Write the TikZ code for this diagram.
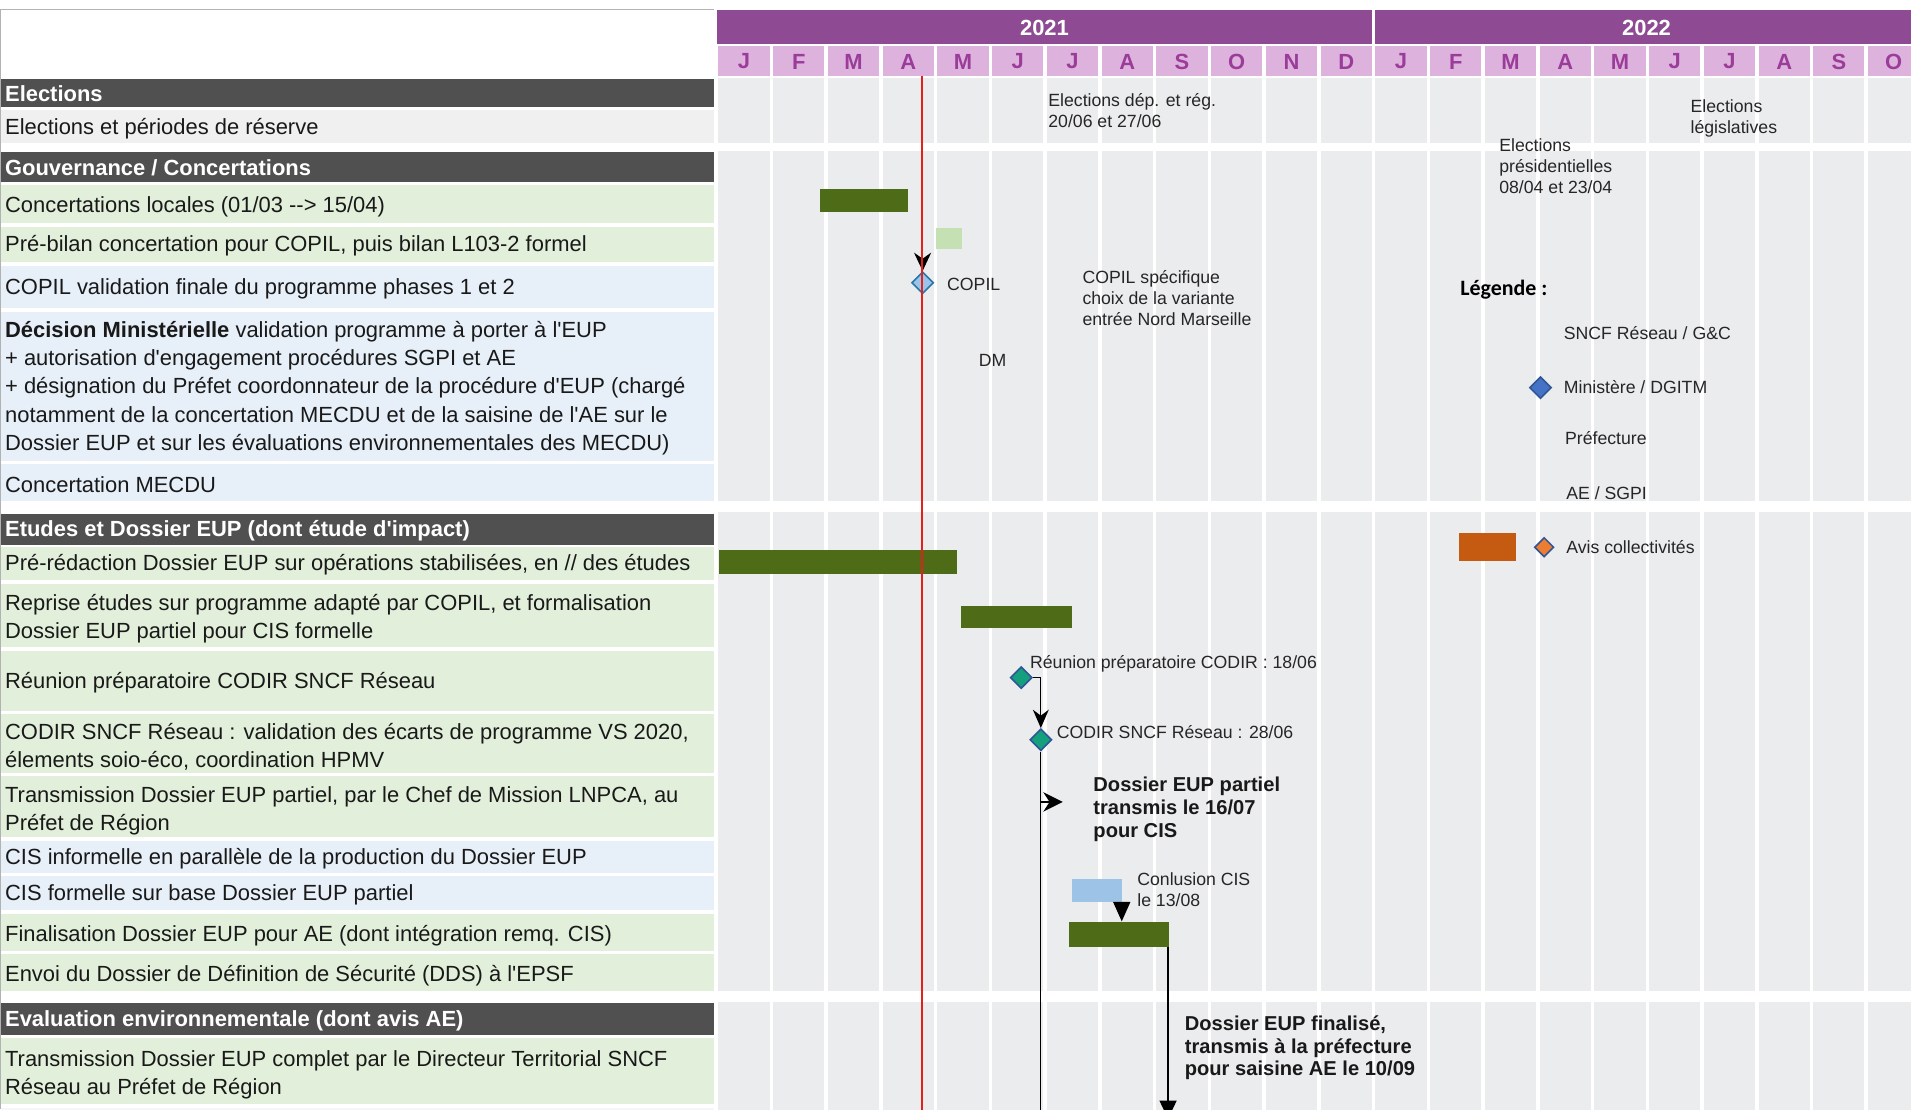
\documentclass[tikz,border=0pt]{standalone}
\usepackage{fontspec}
\setmainfont{Liberation Sans}[Ligatures=TeXOff]
\newfontfamily\calib{Carlito}[Ligatures=TeXOff]
\usetikzlibrary{arrows.meta,shapes.geometric}
\definecolor{hdrgray}{HTML}{505050}
\definecolor{rowelec}{HTML}{F0F0F0}
\definecolor{rowgreen}{HTML}{E2EFDA}
\definecolor{rowblue}{HTML}{E7EFF9}
\definecolor{rowpale}{HTML}{F3F7FC}
\definecolor{cellgray}{HTML}{EBECEE}
\definecolor{yearbar}{HTML}{8E4A92}
\definecolor{monthbg}{HTML}{DDB3DD}
\definecolor{monthtx}{HTML}{9B3C9B}
\definecolor{barcol}{HTML}{4E6B18}
\definecolor{lgreen}{HTML}{C5E0B3}
\definecolor{lblue}{HTML}{9DC3E6}
\definecolor{orangebar}{HTML}{C55A11}
\definecolor{orangedia}{HTML}{ED7D31}
\definecolor{diablue}{HTML}{4472C4}
\definecolor{diaborder}{HTML}{2F5597}
\definecolor{tealdia}{HTML}{14A07C}
\definecolor{redline}{HTML}{E3201B}
\begin{document}
\begin{tikzpicture}[x=1pt,y=-1pt,
  lbl/.style={anchor=west, inner sep=0pt, align=left, font=\fontsize{18}{23}\selectfont, text=black!90},
  hdrlbl/.style={anchor=west, inner sep=0pt, font=\fontsize{18}{23}\selectfont\bfseries, text=white},
  note/.style={anchor=west, inner sep=0pt, align=left, font=\fontsize{14.5}{17}\selectfont, text=black!85},
  bnote/.style={anchor=west, inner sep=0pt, align=left, font=\fontsize{16.5}{18.5}\selectfont\bfseries, text=black!90},
  barg/.style={anchor=north west, inner sep=0pt, fill=barcol, draw=none},
  dia/.style={diamond, aspect=1, inner sep=0pt, minimum width=18pt, minimum height=18pt, line width=1.3pt},
  link/.style={line width=1.1pt, draw=black},
  monthlbl/.style={inner sep=0pt, font=\fontsize{18}{20}\selectfont\bfseries, text=monthtx},
  yearlbl/.style={inner sep=0pt, font=\fontsize{18}{20}\selectfont\bfseries, text=white},
]
\useasboundingbox (0,0) rectangle (1568,910);
\fill[white] (0,0) rectangle (1568,910);

% chart grid cells
\foreach \ya/\yb in {64/117, 124/411, 420/813, 822/920}{
  \foreach \m in {0,...,21}{
    \fill[cellgray] ({588+44.92*\m+1.5},\ya) rectangle ({588+44.92*(\m+1)-1.5},\yb);
  }
}
% year bar
\fill[yearbar] (588,8) rectangle (1126,36);
\fill[yearbar] (1128.5,8) rectangle (1580,36);
\node[yearlbl] (y2021) at (857,23) {2021};
\node[yearlbl] (y2022) at (1351,23) {2022};
% months
\foreach \l [count=\i from 0] in {J,F,M,A,M,J,J,A,S,O,N,D,J,F,M,A,M,J,J,A,S,O}{
  \fill[monthbg] ({588+44.92*\i+1.5},38) rectangle ({588+44.92*(\i+1)-1.5},62);
  \node[monthlbl] (m\i) at ({588+44.92*(\i+0.5)},50.5) {\l};
}

% left column backgrounds
\foreach \ya/\yb/\c in {65/88/hdrgray, 90/117/rowelec, 125/149/hdrgray, 152/183/rowgreen, 186/215/rowgreen, 218/253/rowblue, 256/378/rowblue, 381/411/rowblue, 422/447/hdrgray, 449/476/rowgreen, 479/531/rowgreen, 534/583/rowgreen, 586/634/rowgreen, 637/687/rowgreen, 690/716/rowblue, 719/747/rowblue, 750/780/rowgreen, 783/813/rowgreen, 823/849/hdrgray, 852/906/rowgreen, 909/920/rowpale}{
  \fill[fill=\c] (1,\ya) rectangle (586,\yb);
}
\draw[gray!60, line width=0.8pt] (586,8) -- (0.5,8) -- (0.5,910);

% left labels
\node[hdrlbl] (h1) at (4,77) {Elections};
\node[lbl] (r1) at (4,106) {Elections et périodes de réserve};
\node[hdrlbl] (h2) at (4,138) {Gouvernance / Concertations};
\node[lbl] (r2) at (4,170) {Concertations locales (01/03 --> 15/04)};
\node[lbl] (r3) at (4,202) {Pré-bilan concertation pour COPIL, puis bilan L103-2 formel};
\node[lbl] (r4) at (4,237) {COPIL validation finale du programme phases 1 et 2};
\node[lbl] (r5) at (4,318.5) {\textbf{Décision Ministérielle} validation programme à porter à l'EUP\\+ autorisation d'engagement procédures SGPI et AE\\+ désignation du Préfet coordonnateur de la procédure d'EUP (chargé\\notamment de la concertation MECDU et de la saisine de l'AE sur le\\Dossier EUP et sur les évaluations environnementales des MECDU)};
\node[lbl] (r6) at (4,397.5) {Concertation MECDU};
\node[hdrlbl] (h3) at (4,435.5) {Etudes et Dossier EUP (dont étude d'impact)};
\node[lbl] (r7) at (4,463) {Pré-rédaction Dossier EUP sur opérations stabilisées, en // des études};
\node[lbl] (r8) at (4,508) {Reprise études sur programme adapté par COPIL, et formalisation\\Dossier EUP partiel pour CIS formelle};
\node[lbl] (r9) at (4,560.5) {Réunion préparatoire CODIR SNCF Réseau};
\node[lbl] (r10) at (4,613) {CODIR SNCF Réseau : validation des écarts de programme VS 2020,\\élements soio-éco, coordination HPMV};
\node[lbl] (r11) at (4,665) {Transmission Dossier EUP partiel, par le Chef de Mission LNPCA, au\\Préfet de Région};
\node[lbl] (r12) at (4,704.5) {CIS informelle en parallèle de la production du Dossier EUP};
\node[lbl] (r13) at (4,734.5) {CIS formelle sur base Dossier EUP partiel};
\node[lbl] (r14) at (4,767.5) {Finalisation Dossier EUP pour AE (dont intégration remq. CIS)};
\node[lbl] (r15) at (4,800.5) {Envoi du Dossier de Définition de Sécurité (DDS) à l'EPSF};
\node[hdrlbl] (h4) at (4,837.5) {Evaluation environnementale (dont avis AE)};
\node[lbl] (r16) at (4,881.5) {Transmission Dossier EUP complet par le Directeur Territorial SNCF\\Réseau au Préfet de Région};

% bars
\node[barg, minimum width=72pt, minimum height=19pt] (bconc) at (673,155) {};
\node[anchor=north west, inner sep=0pt, fill=lgreen, minimum width=21pt, minimum height=17pt] (bprebil) at (768,187) {};
\node[barg, minimum width=195pt, minimum height=20pt] (bpreed) at (590,451) {};
\node[barg, minimum width=91pt, minimum height=18pt] (brep) at (788,497) {};
\node[anchor=north west, inner sep=0pt, fill=lblue, minimum width=41pt, minimum height=19pt] (bcis) at (879,721) {};
\node[barg, minimum width=82pt, minimum height=21pt] (bfin) at (877,756) {};

% annotations
\node[note] (ann1) at (860,90.5) {Elections dép. et rég.\\20/06 et 27/06};
\node[note] (ann2) at (1230,136.5) {Elections\\présidentielles\\08/04 et 23/04};
\node[note] (ann3) at (1387,97) {Elections\\législatives};
\node[note] (copillbl) at (777,233.5) {COPIL};
\node[note] (copilspec) at (888,244.5) {COPIL spécifique\\choix de la variante\\entrée Nord Marseille};
\node[note] (dmlbl) at (803,295.5) {DM};
\node[note] (reunlbl) at (845,544.5) {Réunion préparatoire CODIR : 18/06};
\node[note] (codirlbl) at (867,600.5) {CODIR SNCF Réseau : 28/06};
\node[bnote] (dos1) at (897,664) {Dossier EUP partiel\\transmis le 16/07\\pour CIS};
\node[note] (conclbl) at (933,730) {Conlusion CIS\\le 13/08};
\node[bnote] (dos2) at (972,860) {Dossier EUP finalisé,\\transmis à la préfecture\\pour saisine AE le 10/09};

% legend
\node[anchor=west, inner sep=0pt, font=\calib\fontsize{18}{20}\selectfont\bfseries] (legt) at (1198,238) {Légende :};
\node[note] (lg1) at (1283,273.5) {SNCF Réseau / G\&C};
\node[dia, fill=diablue, draw=diaborder] (lgd2) at (1264,318) {};
\node[note] (lg2) at (1283,317.5) {Ministère / DGITM};
\node[note] (lg3) at (1284,359.5) {Préfecture};
\node[note] (lg4) at (1285,404.5) {AE / SGPI};
\node[anchor=north west, inner sep=0pt, fill=orangebar, minimum width=47pt, minimum height=23pt] (lgbar) at (1197,437) {};
\node[dia, fill=orangedia, draw=diaborder, minimum width=16pt, minimum height=16pt] (lgd5) at (1267,449) {};
\node[note] (lg5) at (1285,448.5) {Avis collectivités};

% milestones
\coordinate (copilsrc) at (757,196);
\node[dia, fill=lblue, draw=diaborder!80!cyan] (copil) at (757,232) {};
\draw[link, -{Stealth[length=15pt,width=14pt]}] (copilsrc) -- (copil.north);

\node[dia, fill=tealdia, draw=diaborder] (reun) at (838,556) {};
\node[dia, fill=tealdia, draw=diaborder] (codir) at (854,607) {};
\draw[link, -{Stealth[length=15pt,width=13pt]}] (reun.east) -| (codir.north);
\coordinate (vbot) at (854,920);
\draw[link] (codir.south) -- (vbot);
\coordinate (flagbase) at (854,658);
\coordinate (flagtip) at (872,658);
\draw[link, -{Stealth[length=16pt,width=16pt]}] (flagbase) -- (flagtip);

\draw[link, -{Triangle[length=16pt,width=14pt]}] (bcis.south east) -- (bcis.south east |- bfin.north);
\coordinate (finend) at (958,918);
\draw[link, -{Triangle[length=15pt,width=14pt]}] (bfin.south east) ++(-1,0) coordinate (finsrc) -- (finsrc |- finend);

% today line
\coordinate (redtop) at (756.5,62);
\coordinate (redbot) at (756.5,915);
\draw[redline, line width=1.8pt] (redtop) -- (redbot);
\end{tikzpicture}
\end{document}
